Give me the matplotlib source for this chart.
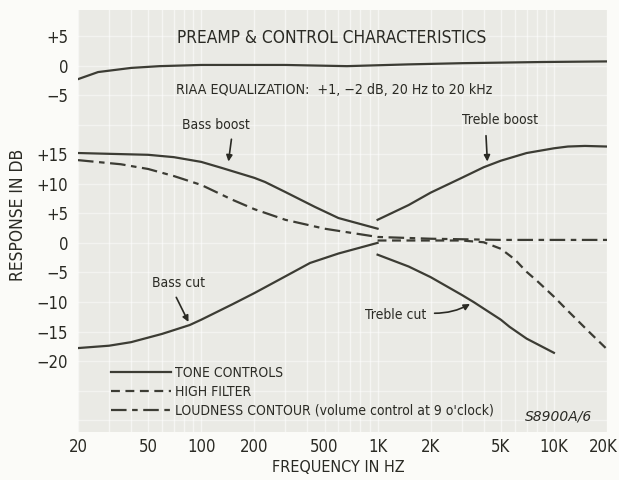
import numpy as np
import matplotlib
matplotlib.use("Agg")
import matplotlib.pyplot as plt
import matplotlib.transforms as mtransforms
from matplotlib.ticker import FixedLocator, NullLocator

plt.rcParams['font.family'] = ['DejaVu Sans']
plt.rcParams['font.stretch'] = 'condensed'

# ==========================
# DATA
# ==========================
# RIAA curve is drawn on its own offset scale (0 dB RIAA = +30 on the main scale)
riaa_offset = 30
riaa_freq = [20, 26, 40, 58, 100, 300, 670, 1500, 3000, 8600, 20000]
riaa_db = [-2.3, -1.1, -0.4, -0.1, 0.1, 0.1, -0.1, 0.2, 0.4, 0.6, 0.7]

bass_boost_freq = [20, 50, 70, 100, 130, 200, 230, 300, 440, 600, 1000]
bass_boost_db = [15.2, 14.9, 14.5, 13.7, 12.7, 11.0, 10.3, 8.6, 6.1, 4.2, 2.4]

bass_cut_freq = [20, 30, 40, 60, 86, 100, 150, 200, 290, 414, 600, 1000]
bass_cut_db = [-17.8, -17.4, -16.8, -15.4, -13.9, -13.0, -10.4, -8.5, -5.9, -3.4, -1.8, 0.0]

treble_boost_freq = [1000, 1500, 2000, 3000, 4000, 5000, 7000, 10000, 12000, 15000, 20000]
treble_boost_db = [3.9, 6.4, 8.5, 11.0, 12.8, 13.9, 15.2, 16.0, 16.3, 16.4, 16.3]

treble_cut_freq = [1000, 1500, 2000, 3000, 3500, 5000, 5600, 7000, 10000]
treble_cut_db = [-2.0, -4.0, -5.8, -8.8, -10.0, -13.0, -14.2, -16.2, -18.6]

high_filter_freq = [1000, 2000, 3000, 4000, 5000, 6000, 7000, 8000, 10000, 12000, 16000, 20000]
high_filter_db = [0.4, 0.4, 0.4, 0.1, -1.0, -2.8, -4.9, -6.4, -9.1, -11.5, -15.2, -18.0]

loudness_freq = [20, 35, 50, 70, 100, 150, 200, 300, 500, 1000, 2000, 5000, 10000, 20000]
loudness_db = [14.0, 13.3, 12.5, 11.3, 9.8, 7.3, 5.7, 3.9, 2.4, 1.0, 0.7, 0.5, 0.5, 0.5]

xtick_vals = [20, 50, 100, 200, 500, 1000, 2000, 5000, 10000, 20000]
xtick_labels = ["20", "50", "100", "200", "500", "1K", "2K", "5K", "10K", "20K"]

main_ticks = [15, 10, 5, 0, -5, -10, -15, -20]
riaa_ticks = [5, 0, -5]

# ==========================
# STYLE
# ==========================
ink = "#3c3c34"
txt = "#2a2a24"
paper = "#fbfbf8"
panel = "#eaeae5"

fig = plt.figure(figsize=(6.19, 4.8), dpi=100, facecolor=paper)
ax = fig.add_axes([78 / 619, 48 / 480, 529 / 619, 422 / 480])
ax.set_facecolor(panel)
ax.set_xscale("log")
ax.set_xlim(20, 20000)
ax.set_ylim(-32, 39.4)

for s in ax.spines.values():
    s.set_visible(False)

# faint white grid like the printed graph paper
grid_x = [m * 10 ** e for e in range(1, 5) for m in range(1, 10) if 20 <= m * 10 ** e <= 20000]
for gx in grid_x:
    ax.axvline(gx, color="white", lw=1.0, alpha=0.55, zorder=0)
for gy in np.arange(-30, 40, 5):
    ax.axhline(gy, color="white", lw=1.0, alpha=0.45, zorder=0)

# ==========================
# CURVES
# ==========================
lw = 1.6
ax.plot(riaa_freq, np.array(riaa_db) + riaa_offset, color=ink, lw=lw)
tone, = ax.plot(bass_boost_freq, bass_boost_db, color=ink, lw=lw,
                label="TONE CONTROLS")
ax.plot(bass_cut_freq, bass_cut_db, color=ink, lw=lw)
ax.plot(treble_boost_freq, treble_boost_db, color=ink, lw=lw)
ax.plot(treble_cut_freq, treble_cut_db, color=ink, lw=lw)
hf, = ax.plot(high_filter_freq, high_filter_db, color=ink, lw=lw,
              linestyle=(0, (4, 2.5)), label="HIGH FILTER")
loud, = ax.plot(loudness_freq, loudness_db, color=ink, lw=lw,
                linestyle=(0, (7, 2.5, 2.5, 2.5)),
                label="LOUDNESS CONTOUR (volume control at 9 o'clock)")

# ==========================
# AXES / TICKS
# ==========================
ax.xaxis.set_major_locator(FixedLocator(xtick_vals))
ax.xaxis.set_minor_locator(NullLocator())
ax.set_xticklabels(xtick_labels)

ytick_pos = main_ticks + [v + riaa_offset for v in riaa_ticks]
def fmt(v):
    if v > 0:
        return "+%d" % v
    if v < 0:
        return "\u2212%d" % abs(v)
    return "0"
ytick_lab = [fmt(v) for v in main_ticks] + [fmt(v) for v in riaa_ticks]
ax.yaxis.set_major_locator(FixedLocator(ytick_pos))
ax.yaxis.set_minor_locator(NullLocator())
ax.set_yticklabels(ytick_lab)

ax.tick_params(axis="both", length=0, labelsize=12, colors=txt)
ax.tick_params(axis="y", pad=7)
ax.tick_params(axis="x", pad=4)

# last frequency label sits a little left so it stays on the page
last = ax.get_xticklabels()[-1]
last.set_transform(last.get_transform() +
                   mtransforms.ScaledTranslation(-4 / 100, 0, fig.dpi_scale_trans))

fig.text(18 / 619, 1 - 215 / 480, "RESPONSE IN DB", rotation=90,
         ha="center", va="center", fontsize=12.5, color=txt)
fig.text(338 / 619, 1 - 467 / 480, "FREQUENCY IN HZ",
         ha="center", va="center", fontsize=11.6, color=txt)

# ==========================
# ANNOTATIONS
# ==========================
ax.text(546, 34.6, "PREAMP & CONTROL CHARACTERISTICS", ha="center",
        va="center", fontsize=12.4, color=txt)
ax.text(566, 25.8, "RIAA EQUALIZATION:  +1, \u22122 dB, 20 Hz to 20 kHz",
        ha="center", va="center", fontsize=10.2, color=txt)

arrow = dict(arrowstyle="-|>", color=txt, lw=1.2, mutation_scale=9)
ax.text(78, 19.9, "Bass boost", ha="left", va="center", fontsize=10,
        color=txt)
ax.annotate("", xy=(142, 13.3), xytext=(149, 18.0), arrowprops=arrow)

ax.text(3012, 20.8, "Treble boost", ha="left", va="center", fontsize=10,
        color=txt)
ax.annotate("", xy=(4200, 13.3), xytext=(4112, 18.6), arrowprops=arrow)

ax.text(52.6, -6.8, "Bass cut", ha="left", va="center", fontsize=10,
        color=txt)
ax.annotate("", xy=(86, -13.8), xytext=(71, -8.8), arrowprops=arrow)

ax.text(848, -12.2, "Treble cut", ha="left", va="center", fontsize=10,
        color=txt)
ax.annotate("", xy=(3450, -10.1), xytext=(2030, -11.9),
            arrowprops=dict(arrow, connectionstyle="arc3,rad=0.15"))

leg = ax.legend(handles=[tone, hf, loud], loc="upper left",
                bbox_to_anchor=(0.062, 0.156), frameon=False, fontsize=10,
                handlelength=4.3, handletextpad=0.35, labelspacing=0.35,
                borderpad=0, borderaxespad=0)
for t in leg.get_texts():
    t.set_color(txt)

ax.text(0.909, 0.036, "S8900A/6", transform=ax.transAxes, ha="center",
        va="center", fontsize=10, style="italic", fontstretch="normal",
        color=txt)

plt.savefig("out.png", dpi=100, facecolor=paper)
